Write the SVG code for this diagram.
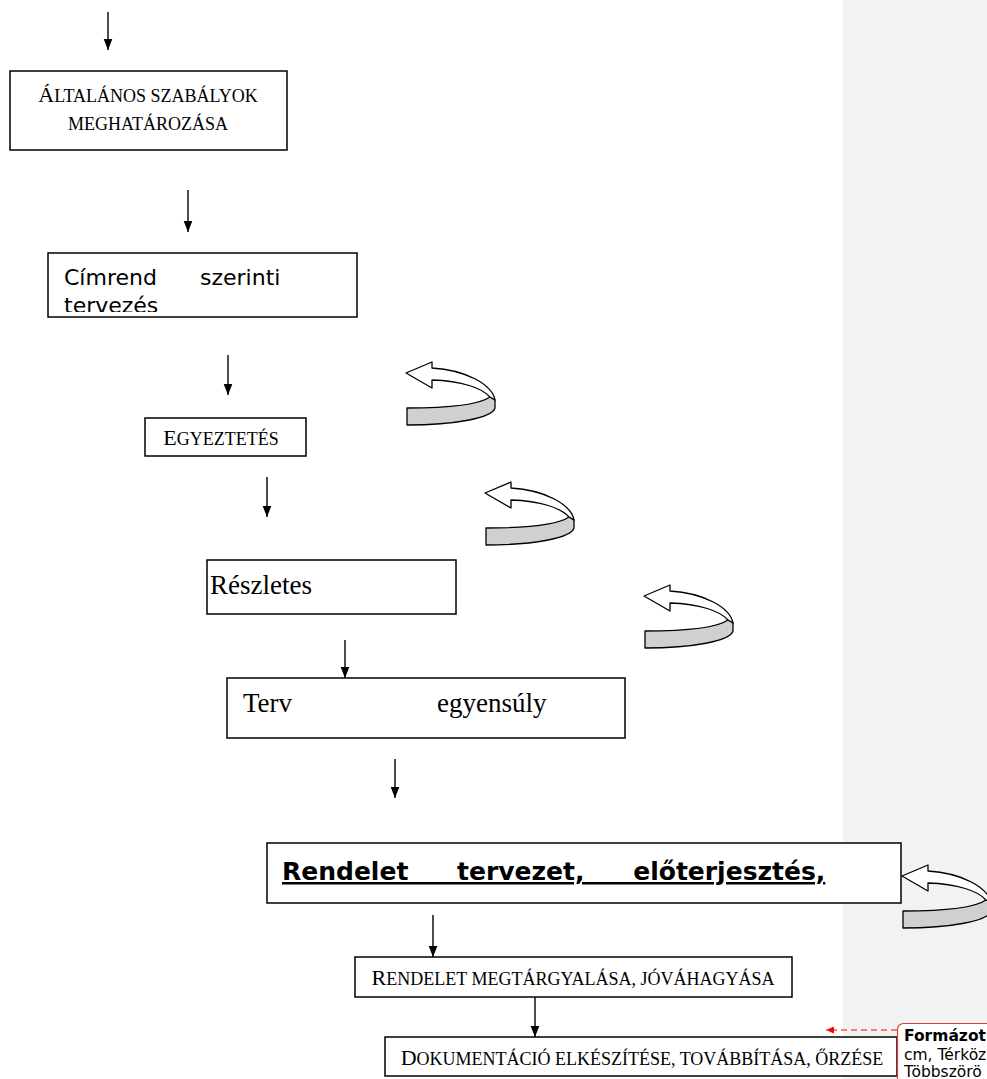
<svg xmlns="http://www.w3.org/2000/svg" width="987" height="1079" viewBox="0 0 987 1079">
<style>
.box{fill:#fff;stroke:#000;stroke-width:1.5}
.ln{stroke:#000;stroke-width:1.4;fill:none}
.sc{font-family:"Liberation Serif","Times New Roman",serif;fill:#000}
.big{font-size:22px}
.sm{font-size:18px}
.tm{font-family:"Liberation Serif","Times New Roman",serif;font-size:27px;fill:#000}
.vd{font-family:"DejaVu Sans",Verdana,sans-serif;font-size:22px;fill:#000}
.vb{font-family:"DejaVu Sans",Verdana,sans-serif;font-size:25px;font-weight:bold;fill:#000;text-decoration:underline}
.cw{fill:#fff;stroke:#000;stroke-width:1.3;stroke-linejoin:round}
.cg{fill:#d0d0d0;stroke:#000;stroke-width:1.3;stroke-linejoin:round}
.cm{font-family:Tahoma,"DejaVu Sans",sans-serif;font-size:15.5px;fill:#000}
</style>
<defs>
<marker id="ah" markerWidth="11" markerHeight="14" refX="14" refY="5.5" orient="auto" markerUnits="userSpaceOnUse" viewBox="0 0 14 11">
<path d="M0,0 L14,5.5 L0,11 Z" fill="#000"/>
</marker>
<marker id="rah" markerWidth="8" markerHeight="7" refX="8" refY="3.5" orient="auto" markerUnits="userSpaceOnUse">
<path d="M0,0 L8,3.5 L0,7 Z" fill="#ff0000"/>
</marker>
<g id="curl">
<path class="cg" d="M90,39 L95,42 L95,50 C92,60 55,67 7,67 L7,50 C50,50 80,46 90,39 Z"/>
<path class="cw" d="M6,15 L32,4 L32,10 C65,12 92,26 95,42 L90,39 C82,30 62,23 32,22 L32,30 Z"/>
</g>
<clipPath id="c2"><rect x="48" y="253" width="309" height="59"/></clipPath>
<clipPath id="c4"><rect x="207" y="560" width="249" height="54"/></clipPath>
<clipPath id="c5"><rect x="227" y="678" width="398" height="60"/></clipPath>
<clipPath id="c6"><rect x="267" y="843" width="634" height="60"/></clipPath>
</defs>
<rect x="843" y="0" width="144" height="1079" fill="#f2f2f2"/>
<g id="connectors">
<line class="ln" x1="108" y1="12" x2="108" y2="50" marker-end="url(#ah)"/>
<line class="ln" x1="188" y1="190" x2="188" y2="232" marker-end="url(#ah)"/>
<line class="ln" x1="228" y1="355" x2="228" y2="395" marker-end="url(#ah)"/>
<line class="ln" x1="267" y1="477" x2="267" y2="517" marker-end="url(#ah)"/>
<line class="ln" x1="345" y1="640" x2="345" y2="678" marker-end="url(#ah)"/>
<line class="ln" x1="395" y1="759" x2="395" y2="798" marker-end="url(#ah)"/>
<line class="ln" x1="433" y1="915" x2="433" y2="957" marker-end="url(#ah)"/>
<line class="ln" x1="535" y1="997" x2="535" y2="1037" marker-end="url(#ah)"/>
<use href="#curl" x="400" y="358"/>
<use href="#curl" x="479" y="478"/>
<use href="#curl" x="638" y="581"/>
<use href="#curl" x="896" y="861"/>
</g>
<g id="n1">
<rect class="box" x="10" y="71" width="277" height="79"/>
<text class="sc" x="148" y="102" text-anchor="middle"><tspan class="big">Á</tspan><tspan class="sm">LTALÁNOS SZABÁLYOK</tspan></text>
<text class="sc" x="148" y="130" text-anchor="middle" font-size="18px">MEGHATÁROZÁSA</text>
</g>
<g id="n2">
<rect class="box" x="48" y="253" width="309" height="64"/>
<g clip-path="url(#c2)">
<text class="vd" x="64" y="285">Címrend</text>
<text class="vd" x="200" y="285">szerinti</text>
<text class="vd" x="64" y="313">tervezés</text>
</g>
</g>
<g id="n3">
<rect class="box" x="145" y="418" width="161" height="38"/>
<text class="sc" x="221" y="445" text-anchor="middle"><tspan class="big">E</tspan><tspan class="sm">GYEZTETÉS</tspan></text>
</g>
<g id="n4">
<rect class="box" x="207" y="560" width="249" height="54"/>
<g clip-path="url(#c4)">
<text class="tm" x="210" y="594">Részletes</text>
</g>
</g>
<g id="n5">
<rect class="box" x="227" y="678" width="398" height="60"/>
<g clip-path="url(#c5)">
<text class="tm" x="243" y="712">Terv</text>
<text class="tm" x="437" y="712">egyensúly</text>
</g>
</g>
<g id="n6">
<rect class="box" x="267" y="843" width="634" height="60"/>
<g clip-path="url(#c6)">
<text class="vb" x="282" y="880" word-spacing="40">Rendelet tervezet, előterjesztés,</text>
</g>
</g>
<g id="n7">
<rect class="box" x="355" y="957" width="437" height="40"/>
<text class="sc" x="573" y="985" text-anchor="middle"><tspan class="big">R</tspan><tspan class="sm">ENDELET MEGTÁRGYALÁSA, JÓVÁHAGYÁSA</tspan></text>
</g>
<g id="n8">
<rect class="box" x="385" y="1037" width="512" height="39"/>
<text class="sc" x="642" y="1065" text-anchor="middle"><tspan class="big">D</tspan><tspan class="sm">OKUMENTÁCIÓ ELKÉSZÍTÉSE, TOVÁBBÍTÁSA, ŐRZÉSE</tspan></text>
</g>
<g id="comment">
<line x1="897" y1="1030" x2="826" y2="1030" stroke="#ff0000" stroke-width="1.2" stroke-dasharray="6,4" marker-end="url(#rah)"/>
<rect x="897.5" y="1023.5" width="110" height="80" rx="6" fill="#fff" stroke="#e04040" stroke-width="1.2"/>
<text class="cm" x="904" y="1041" font-weight="bold">Formázot</text>
<text class="cm" x="904" y="1060">cm, Térköz</text>
<text class="cm" x="904" y="1077">Többszörö</text>
</g>
</svg>
